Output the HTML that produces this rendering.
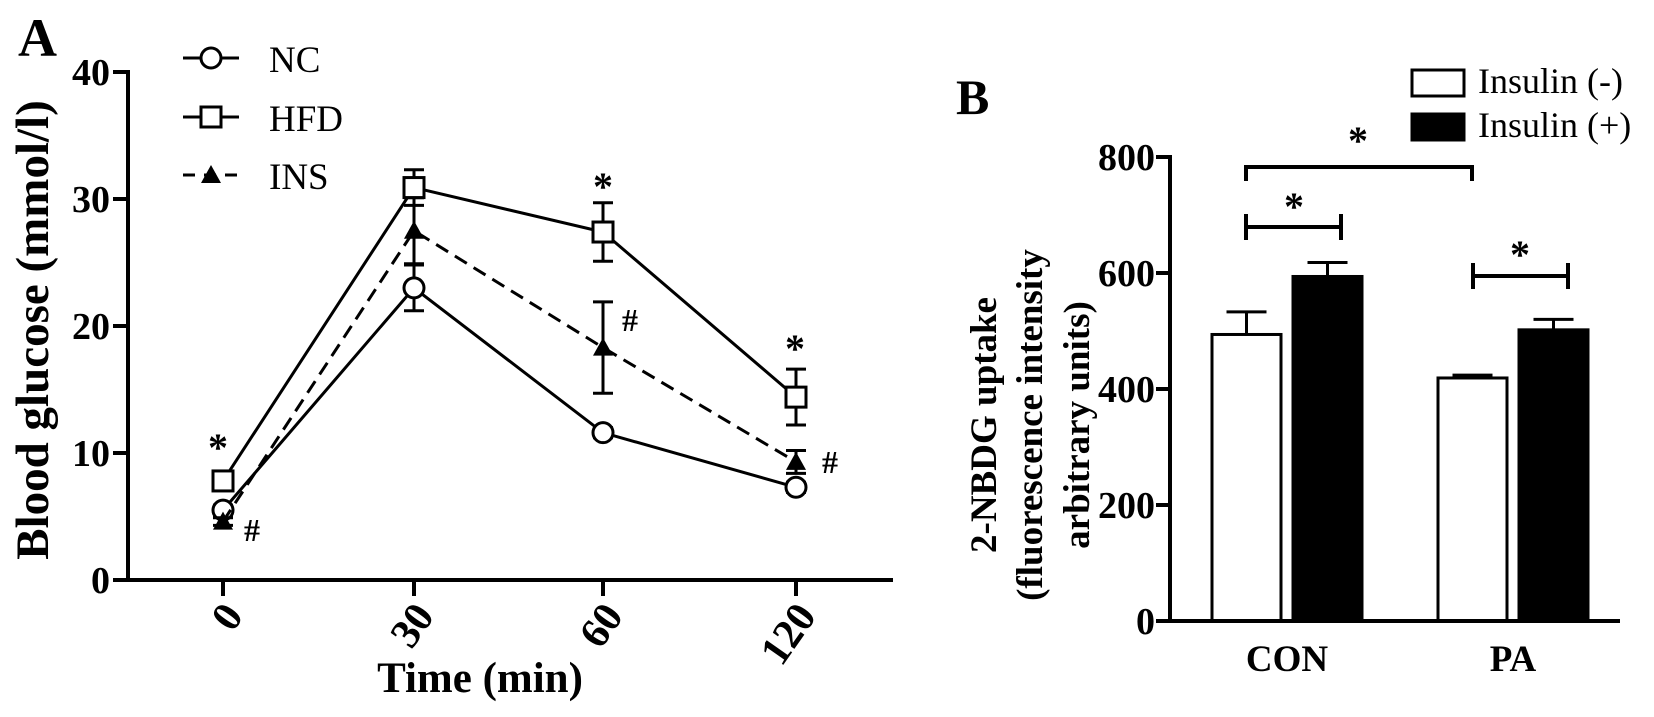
<!DOCTYPE html>
<html><head><meta charset="utf-8"><style>
html,body{margin:0;padding:0;background:#fff;}
svg{display:block;font-family:"Liberation Serif",serif;}
</style></head><body>
<svg width="1654" height="717" viewBox="0 0 1654 717">
<g id="A"></g>
<g id="B"></g>
</svg>
<script>
// Panel A data
const timeCats = ["0","30","60","120"];
const ncVals = [5.5, 23.0, 11.6, 7.3];
const ncErr = [0.4, 1.8, 0.4, 0.4];
const hfdVals = [7.8, 30.9, 27.4, 14.4];
const hfdErr = [0.5, 1.4, 2.3, 2.2];
const insVals = [4.6, 27.5, 18.3, 9.3];
const insErr = [0.3, 2.6, 3.6, 0.9];
const yTicksA = [0, 10, 20, 30, 40];
// Panel B data
const groupCats = ["CON", "PA"];
const insMinusVals = [494, 419];
const insMinusErr = [39, 5];
const insPlusVals = [594, 502];
const insPlusErr = [24, 18];
const yTicksB = [0, 200, 400, 600, 800];

const NS = "http://www.w3.org/2000/svg";
function mk(parent, tag, attrs, text){
  const e = document.createElementNS(NS, tag);
  for (const k in attrs) e.setAttribute(k, attrs[k]);
  if (text !== undefined) e.textContent = text;
  parent.appendChild(e);
  return e;
}
const A = document.getElementById('A');
const B = document.getElementById('B');

// ---------- Panel A ----------
const axA = {x0:128, y0:580, yTop:72, max:40};
const catX = [223, 414, 603, 796];
const yA = v => axA.y0 - (v/axA.max)*(axA.y0-axA.yTop);
const xA = i => catX[i];

let t = mk(A,'text',{x:18,y:56,'font-size':54,'font-weight':'bold'},'A');
 

let l = mk(A,'line',{x1:axA.x0,y1:axA.yTop-2,x2:axA.x0,y2:axA.y0+2,stroke:'#000','stroke-width':4});
 
l = mk(A,'line',{x1:axA.x0-15,y1:axA.y0,x2:893,y2:axA.y0,stroke:'#000','stroke-width':4});
 

yTicksA.forEach(v=>{
  const y=yA(v);
  const tk=mk(A,'line',{x1:axA.x0-15,y1:y,x2:axA.x0,y2:y,stroke:'#000','stroke-width':4});
   
  const tx=mk(A,'text',{x:110,y:y+13,'font-size':38,'font-weight':'bold','text-anchor':'end'},String(v));
   
});
timeCats.forEach((c,i)=>{
  const x=xA(i);
  const tk=mk(A,'line',{x1:x,y1:axA.y0,x2:x,y2:axA.y0+16,stroke:'#000','stroke-width':4});
   
  const ax=x+10, ay=608;
  const tx=mk(A,'text',{x:ax,y:ay,'font-size':42,'font-weight':'bold','text-anchor':'end',transform:`rotate(-55 ${ax} ${ay})`,dy:14},c);
   
});
t = mk(A,'text',{x:480,y:692,'font-size':43,'font-weight':'bold','text-anchor':'middle'},'Time (min)');
 
t = mk(A,'text',{x:33,y:330,'font-size':47,'font-weight':'bold','text-anchor':'middle',transform:'rotate(-90 33 330)',dy:15},'Blood glucose (mmol/l)');
 

function drawMarker(g, marker, x, y, name){
  let m;
  if(marker==='circle') m=mk(g,'circle',{cx:x,cy:y,r:10,fill:'#fff',stroke:'#000','stroke-width':3});
  else if(marker==='square') m=mk(g,'rect',{x:x-10,y:y-10,width:20,height:20,fill:'#fff',stroke:'#000','stroke-width':3});
  else m=mk(g,'polygon',{points:`${x},${y-10} ${x+10},${y+8} ${x-10},${y+8}`,fill:'#000'});
   
}
function series(vals, errs, dashed, marker, name){
  const g = mk(A,'g',{});
  
  
  const pts = vals.map((v,i)=>`${xA(i)},${yA(v)}`).join(' ');
  const pl = mk(g,'polyline',{points:pts,fill:'none',stroke:'#000','stroke-width':3,'stroke-dasharray':dashed?'14 8':'none'});
   
  vals.forEach((v,i)=>{
    const x=xA(i), y=yA(v), yu=yA(v+errs[i]), yd=yA(v-errs[i]);
    const eb=mk(g,'path',{d:`M${x},${yu}V${yd}M${x-10},${yu}H${x+10}M${x-10},${yd}H${x+10}`,stroke:'#000','stroke-width':3,fill:'none'});
     
    drawMarker(g, marker, x, y, name+'-point');
  });
}
series(ncVals, ncErr, false, 'circle', 'nc');
series(insVals, insErr, true, 'triangle', 'ins');
series(hfdVals, hfdErr, false, 'square', 'hfd');

[['*',218,447],['#',252,530],['*',603,186],['#',630,320],['*',795,348],['#',830,462]].forEach(a=>{
  const s=mk(A,'text',{x:a[1],y:a[2]+(a[0]==='*'?14:11),'font-size':a[0]==='*'?40:32,'font-weight':'bold','text-anchor':'middle'},a[0]);
   
});

[['NC','circle',58,false],['HFD','square',117,false],['INS','triangle',175,true]].forEach(e=>{
  const g=mk(A,'g',{});
  
  
  mk(g,'line',{x1:183,y1:e[2],x2:239,y2:e[2],stroke:'#000','stroke-width':3,'stroke-dasharray':e[3]?'12 9':'none'});
  drawMarker(g,e[1],211,e[2],'legend-marker');
  mk(g,'text',{x:269,y:e[2]+14,'font-size':37},e[0]);
});

// ---------- Panel B ----------
const axB = {x0:1170, y0:621, yTop:157, max:800};
const yB = v => axB.y0 - (v/axB.max)*(axB.y0-axB.yTop);
const groupX = [1287, 1513];
const barW = 69, gap = 12;

t = mk(B,'text',{x:956,y:114,'font-size':50,'font-weight':'bold'},'B');
 

yTicksB.forEach(v=>{
  const y=yB(v);
  const tk=mk(B,'line',{x1:axB.x0-14,y1:y,x2:axB.x0,y2:y,stroke:'#000','stroke-width':4});
   
  const tx=mk(B,'text',{x:1155,y:y+13,'font-size':38,'font-weight':'bold','text-anchor':'end'},String(v));
   
});
['2-NBDG uptake','(fluorescence intensity','arbitrary units)'].forEach((s,i)=>{
  const cx=[984,1030,1077][i];
  const tx=mk(B,'text',{x:cx,y:425,'font-size':37,'font-weight':'bold','text-anchor':'middle',transform:`rotate(-90 ${cx} 425)`,dy:12},s);
   
});

groupCats.forEach((c,i)=>{
  const cx=groupX[i];
  const xw=cx-gap/2-barW, xb=cx+gap/2;
  const ew=mk(B,'path',{d:`M${xw+barW/2},${yB(insMinusVals[i])}V${yB(insMinusVals[i]+insMinusErr[i])}M${xw+barW/2-20},${yB(insMinusVals[i]+insMinusErr[i])}h40`,stroke:'#000','stroke-width':3,fill:'none'});
   
  const bw=mk(B,'rect',{x:xw,y:yB(insMinusVals[i]),width:barW,height:axB.y0-yB(insMinusVals[i]),fill:'#fff',stroke:'#000','stroke-width':3});
   
  const eb=mk(B,'path',{d:`M${xb+barW/2},${yB(insPlusVals[i])}V${yB(insPlusVals[i]+insPlusErr[i])}M${xb+barW/2-20},${yB(insPlusVals[i]+insPlusErr[i])}h40`,stroke:'#000','stroke-width':3,fill:'none'});
   
  const bb=mk(B,'rect',{x:xb,y:yB(insPlusVals[i]),width:barW,height:axB.y0-yB(insPlusVals[i]),fill:'#000',stroke:'#000','stroke-width':3});
   
  const tx=mk(B,'text',{x:cx,y:671,'font-size':37,'font-weight':'bold','text-anchor':'middle'},c);
   
});

l = mk(B,'line',{x1:axB.x0,y1:axB.yTop-2,x2:axB.x0,y2:axB.y0+2,stroke:'#000','stroke-width':4});
 
l = mk(B,'line',{x1:axB.x0-14,y1:axB.y0,x2:1620,y2:axB.y0,stroke:'#000','stroke-width':4});
 

let br = mk(B,'path',{d:'M1246,181V167H1472V181',stroke:'#000','stroke-width':4,fill:'none'});
 
br = mk(B,'path',{d:'M1246,214V240M1246,227H1341M1341,214V240',stroke:'#000','stroke-width':4,fill:'none'});
 
br = mk(B,'path',{d:'M1473,263V289M1473,276H1568M1568,263V289',stroke:'#000','stroke-width':4,fill:'none'});
 
[[1358,154],[1294,220],[1520,268]].forEach(p=>{
  const s=mk(B,'text',{x:p[0],y:p[1],'font-size':40,'font-weight':'bold','text-anchor':'middle'},'*');
   
});

[['Insulin (-)','#fff',70,93],['Insulin (+)','#000',114,137]].forEach(e=>{
  const g=mk(B,'g',{});
  
  
  mk(g,'rect',{x:1412,y:e[2],width:52,height:26,fill:e[1],stroke:'#000','stroke-width':3});
  mk(g,'text',{x:1478,y:e[3],'font-size':36},e[0]);
});
</script>
</body></html>
